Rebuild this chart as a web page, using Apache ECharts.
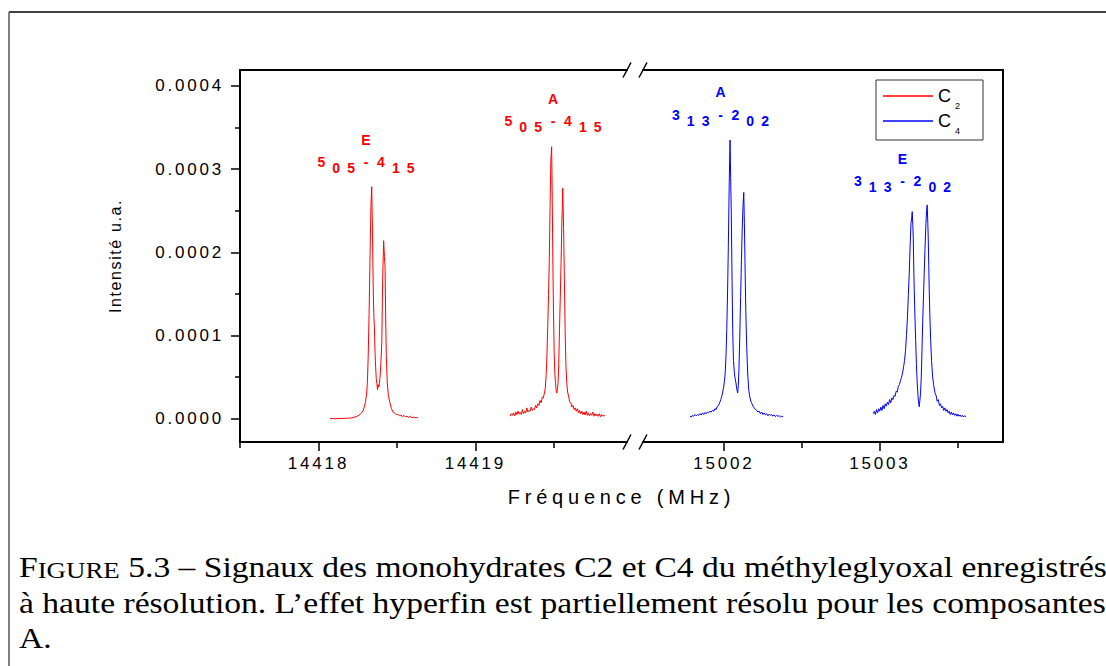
<!DOCTYPE html>
<html><head><meta charset="utf-8">
<script src="https://cdn.jsdelivr.net/npm/echarts@6/dist/echarts.min.js"></script>
<style>
html,body{margin:0;padding:0;background:#fff;}
#chart{width:1106px;height:666px;}
#chart text[style*="xspa"]{letter-spacing:2.8px;}
#chart text[style*="xspb"]{letter-spacing:4.8px;}
#chart text[style*="xspc"]{letter-spacing:1.6px;}
</style></head><body><div id="chart"></div>
<script>
// ---- data: [frequency (MHz), intensity (u.a.)] ----
const c2E = [[14418.073,0.00e-5],[14418.090,0.02e-5],[14418.110,0.00e-5],[14418.130,0.03e-5],[14418.150,0.02e-5],[14418.170,0.05e-5],[14418.190,0.06e-5],[14418.210,0.10e-5],[14418.225,0.15e-5],[14418.240,0.25e-5],[14418.252,0.35e-5],[14418.263,0.50e-5],[14418.274,0.70e-5],[14418.285,1.0e-5],[14418.293,1.5e-5],[14418.300,2.1e-5],[14418.307,3.1e-5],[14418.312,4.6e-5],[14418.317,7.9e-5],[14418.322,12.5e-5],[14418.328,19.1e-5],[14418.334,25.5e-5],[14418.339,27.9e-5],[14418.344,22.0e-5],[14418.349,15.1e-5],[14418.353,12.2e-5],[14418.356,11.0e-5],[14418.360,8.0e-5],[14418.364,6.2e-5],[14418.368,4.8e-5],[14418.372,4.2e-5],[14418.376,3.5e-5],[14418.380,4.1e-5],[14418.384,3.8e-5],[14418.388,4.3e-5],[14418.392,5.0e-5],[14418.397,6.5e-5],[14418.403,9.1e-5],[14418.409,17.0e-5],[14418.415,21.4e-5],[14418.420,19.5e-5],[14418.424,18.2e-5],[14418.428,12.0e-5],[14418.432,7.5e-5],[14418.438,4.3e-5],[14418.445,2.8e-5],[14418.455,1.9e-5],[14418.465,1.2e-5],[14418.475,0.8e-5],[14418.485,0.7e-5],[14418.495,0.5e-5],[14418.505,0.55e-5],[14418.515,0.35e-5],[14418.525,0.45e-5],[14418.535,0.25e-5],[14418.545,0.4e-5],[14418.555,0.2e-5],[14418.565,0.3e-5],[14418.575,0.15e-5],[14418.585,0.3e-5],[14418.595,0.1e-5],[14418.605,0.2e-5],[14418.615,0.1e-5],[14418.625,0.15e-5],[14418.634,0.05e-5]];

const c2A = [[14419.220,0.3e-5],[14419.228,0.6e-5],[14419.235,0.4e-5],[14419.242,0.7e-5],[14419.250,0.35e-5],[14419.257,0.8e-5],[14419.264,0.5e-5],[14419.271,0.9e-5],[14419.278,0.55e-5],[14419.285,0.75e-5],[14419.292,0.5e-5],[14419.299,1.1e-5],[14419.306,0.6e-5],[14419.313,0.9e-5],[14419.320,0.7e-5],[14419.327,1.3e-5],[14419.334,0.8e-5],[14419.341,1.0e-5],[14419.348,0.9e-5],[14419.355,1.4e-5],[14419.362,1.0e-5],[14419.369,1.2e-5],[14419.376,1.1e-5],[14419.383,1.6e-5],[14419.390,1.3e-5],[14419.397,1.8e-5],[14419.404,1.6e-5],[14419.411,2.2e-5],[14419.418,1.9e-5],[14419.425,2.6e-5],[14419.432,2.5e-5],[14419.438,3.0e-5],[14419.444,3.6e-5],[14419.450,5.2e-5],[14419.455,7.6e-5],[14419.460,11.0e-5],[14419.465,14.8e-5],[14419.470,19.0e-5],[14419.475,25.5e-5],[14419.480,31.0e-5],[14419.485,32.7e-5],[14419.489,26.0e-5],[14419.493,18.5e-5],[14419.497,12.5e-5],[14419.501,8.2e-5],[14419.505,5.6e-5],[14419.510,4.2e-5],[14419.514,3.4e-5],[14419.518,3.1e-5],[14419.522,3.6e-5],[14419.526,4.3e-5],[14419.530,6.5e-5],[14419.535,10.7e-5],[14419.540,14.5e-5],[14419.545,18.7e-5],[14419.550,23.5e-5],[14419.556,27.7e-5],[14419.561,23.0e-5],[14419.566,17.0e-5],[14419.571,10.5e-5],[14419.576,6.4e-5],[14419.581,4.4e-5],[14419.587,3.2e-5],[14419.594,2.6e-5],[14419.600,2.0e-5],[14419.607,1.9e-5],[14419.614,1.4e-5],[14419.621,1.6e-5],[14419.628,1.1e-5],[14419.635,1.3e-5],[14419.642,0.9e-5],[14419.649,1.2e-5],[14419.656,0.7e-5],[14419.663,1.0e-5],[14419.670,0.6e-5],[14419.677,0.9e-5],[14419.684,0.5e-5],[14419.691,0.8e-5],[14419.698,0.45e-5],[14419.705,0.9e-5],[14419.712,0.4e-5],[14419.719,0.7e-5],[14419.726,0.35e-5],[14419.733,0.6e-5],[14419.740,0.4e-5],[14419.747,0.8e-5],[14419.754,0.3e-5],[14419.761,0.6e-5],[14419.768,0.35e-5],[14419.775,0.55e-5],[14419.782,0.3e-5],[14419.789,0.6e-5],[14419.796,0.25e-5],[14419.803,0.5e-5],[14419.810,0.3e-5],[14419.817,0.45e-5],[14419.822,0.3e-5]];

const c4A = [[15001.782,0.3e-5],[15001.790,0.2e-5],[15001.798,0.4e-5],[15001.806,0.3e-5],[15001.814,0.5e-5],[15001.822,0.35e-5],[15001.830,0.5e-5],[15001.838,0.4e-5],[15001.846,0.6e-5],[15001.854,0.45e-5],[15001.862,0.7e-5],[15001.870,0.5e-5],[15001.878,0.75e-5],[15001.886,0.6e-5],[15001.894,0.8e-5],[15001.902,0.7e-5],[15001.910,0.9e-5],[15001.918,0.8e-5],[15001.926,1.0e-5],[15001.934,0.9e-5],[15001.942,1.2e-5],[15001.950,1.1e-5],[15001.958,1.5e-5],[15001.966,1.6e-5],[15001.974,2.0e-5],[15001.980,2.3e-5],[15001.986,2.7e-5],[15001.992,3.2e-5],[15001.998,3.8e-5],[15002.003,4.5e-5],[15002.008,5.5e-5],[15002.013,7.5e-5],[15002.018,10.7e-5],[15002.023,15.0e-5],[15002.028,20.6e-5],[15002.034,28.5e-5],[15002.039,33.5e-5],[15002.043,29.0e-5],[15002.047,24.7e-5],[15002.052,16.5e-5],[15002.056,10.7e-5],[15002.061,7.0e-5],[15002.067,5.5e-5],[15002.072,4.8e-5],[15002.077,4.3e-5],[15002.082,3.6e-5],[15002.088,3.1e-5],[15002.092,4.0e-5],[15002.096,5.9e-5],[15002.101,9.5e-5],[15002.107,14.7e-5],[15002.112,19.0e-5],[15002.117,22.7e-5],[15002.122,25.5e-5],[15002.127,27.2e-5],[15002.131,23.5e-5],[15002.135,18.7e-5],[15002.140,13.0e-5],[15002.146,8.6e-5],[15002.152,5.5e-5],[15002.159,3.4e-5],[15002.166,2.6e-5],[15002.172,2.1e-5],[15002.178,1.9e-5],[15002.186,1.5e-5],[15002.194,1.3e-5],[15002.202,1.1e-5],[15002.210,1.0e-5],[15002.218,0.8e-5],[15002.226,0.9e-5],[15002.234,0.6e-5],[15002.242,0.8e-5],[15002.250,0.5e-5],[15002.258,0.7e-5],[15002.266,0.45e-5],[15002.274,0.6e-5],[15002.282,0.35e-5],[15002.290,0.55e-5],[15002.298,0.4e-5],[15002.306,0.5e-5],[15002.314,0.3e-5],[15002.322,0.45e-5],[15002.330,0.25e-5],[15002.338,0.4e-5],[15002.346,0.3e-5],[15002.354,0.35e-5],[15002.362,0.2e-5],[15002.370,0.3e-5],[15002.379,0.25e-5]];

const c4E = [[15002.957,0.6e-5],[15002.964,0.9e-5],[15002.971,0.5e-5],[15002.978,1.1e-5],[15002.985,0.7e-5],[15002.992,1.2e-5],[15002.999,0.9e-5],[15003.006,1.4e-5],[15003.013,1.0e-5],[15003.020,1.6e-5],[15003.027,1.2e-5],[15003.034,1.8e-5],[15003.041,1.5e-5],[15003.048,2.0e-5],[15003.055,1.7e-5],[15003.062,2.3e-5],[15003.069,1.9e-5],[15003.076,2.5e-5],[15003.083,2.3e-5],[15003.090,2.8e-5],[15003.097,2.7e-5],[15003.104,3.3e-5],[15003.111,3.2e-5],[15003.118,3.9e-5],[15003.125,4.1e-5],[15003.132,4.6e-5],[15003.139,5.0e-5],[15003.146,5.6e-5],[15003.152,6.3e-5],[15003.158,7.0e-5],[15003.164,8.2e-5],[15003.170,10.0e-5],[15003.176,12.0e-5],[15003.182,14.8e-5],[15003.188,17.5e-5],[15003.194,21.0e-5],[15003.199,23.5e-5],[15003.203,24.0e-5],[15003.207,24.9e-5],[15003.211,23.2e-5],[15003.214,21.5e-5],[15003.217,18.0e-5],[15003.220,15.5e-5],[15003.225,12.0e-5],[15003.229,9.5e-5],[15003.234,6.5e-5],[15003.239,4.3e-5],[15003.245,2.5e-5],[15003.249,1.8e-5],[15003.252,1.44e-5],[15003.256,2.2e-5],[15003.260,3.0e-5],[15003.265,5.0e-5],[15003.270,8.5e-5],[15003.274,11.5e-5],[15003.279,14.5e-5],[15003.284,17.5e-5],[15003.289,20.5e-5],[15003.295,23.5e-5],[15003.299,25.0e-5],[15003.303,25.7e-5],[15003.307,23.5e-5],[15003.310,21.5e-5],[15003.313,18.5e-5],[15003.316,15.5e-5],[15003.320,12.5e-5],[15003.325,9.5e-5],[15003.331,7.0e-5],[15003.338,5.0e-5],[15003.345,4.0e-5],[15003.353,3.1e-5],[15003.360,2.8e-5],[15003.367,2.1e-5],[15003.374,2.3e-5],[15003.381,1.6e-5],[15003.388,1.8e-5],[15003.395,1.3e-5],[15003.402,1.5e-5],[15003.409,1.0e-5],[15003.416,1.3e-5],[15003.423,0.9e-5],[15003.430,1.1e-5],[15003.437,0.7e-5],[15003.444,0.9e-5],[15003.451,0.5e-5],[15003.458,0.8e-5],[15003.465,0.45e-5],[15003.472,0.7e-5],[15003.479,0.4e-5],[15003.486,0.6e-5],[15003.493,0.3e-5],[15003.500,0.55e-5],[15003.507,0.3e-5],[15003.514,0.45e-5],[15003.521,0.25e-5],[15003.528,0.4e-5],[15003.535,0.2e-5],[15003.542,0.35e-5],[15003.552,0.25e-5]];

// tick values
const yTicks = [0, 0.0001, 0.0002, 0.0003, 0.0004];
const yMinorTicks = [0.00005, 0.00015, 0.00025, 0.00035];
const xTicksLeft = [14418, 14419];
const xMinorLeft = [14417.5, 14418.5, 14419.5];
const xTicksRight = [15002, 15003];
const xMinorRight = [15002.5, 15003.5];

// band labels (component, J Ka Kc upper, J Ka Kc lower) anchored at [freq, intensity]
const annotC2 = [
  {band: 'E', upper: ['5','0','5'], lower: ['4','1','5'], value: [14418.306, 32.3e-5]},
  {band: 'A', upper: ['5','0','5'], lower: ['4','1','5'], value: [14419.497, 37.2e-5]}
];
const annotC4 = [
  {band: 'A', upper: ['3','1','3'], lower: ['2','0','2'], value: [15001.981, 38.0e-5]},
  {band: 'E', upper: ['3','1','3'], lower: ['2','0','2'], value: [15003.148, 30.0e-5]}
];

const RED = '#ff0000', BLUE = '#0000ff';
const SANS = 'Liberation Sans';

const chart = echarts.init(document.getElementById('chart'), null, {renderer: 'svg'});

const Y_MIN = -0.000028, Y_MAX = 0.00041923;
const axisLineStyle = {color: '#000', width: 2, cap: 'square'};

function annotLabel(color) {
  const base = {fontFamily: SANS, fontWeight: 'bold', color: color, opacity: 1};
  return {
    show: true, position: [0, 0], align: 'center', verticalAlign: 'middle',
    fontFamily: SANS, fontWeight: 'bold', fontSize: 14, color: color, lineHeight: 20,
    opacity: 1, textBorderWidth: 0,
    formatter: p => {
      const d = p.data, u = d.upper, l = d.lower;
      return `{ab|${d.band}}\n{hi|${u[0]}} {lo|${u[1]}} {lo|${u[2]}} {hi|-} {hi|${l[0]}} {lo|${l[1]}} {lo|${l[2]}}`;
    },
    rich: {
      ab: Object.assign({fontSize: 14, lineHeight: 31, align: 'center'}, base),
      hi: Object.assign({fontSize: 14, width: 11, align: 'center', verticalAlign: 'top'}, base),
      lo: Object.assign({fontSize: 14, width: 11, align: 'center', verticalAlign: 'bottom'}, base)
    }
  };
}

const option = {
  animation: false,
  backgroundColor: '#fff',
  grid: [
    {left: 240, top: 70, width: 387, height: 372, containLabel: false, outerBoundsMode: 'none'},
    {left: 643, top: 70, width: 360, height: 372, containLabel: false, outerBoundsMode: 'none'}
  ],
  xAxis: [
    {gridIndex: 0, type: 'value', position: 'bottom', min: 14417.5, max: 14419.965,
     axisLine: {show: true, onZero: false, lineStyle: axisLineStyle},
     axisTick: {show: true, customValues: xMinorLeft, length: 6, lineStyle: {color: '#000', width: 1.5}},
     axisLabel: {show: false}, splitLine: {show: false}},
    {gridIndex: 0, type: 'value', position: 'bottom', min: 14417.5, max: 14419.965,
     axisLine: {show: false, onZero: false},
     axisTick: {show: true, customValues: xTicksLeft, length: 9, lineStyle: {color: '#000', width: 1.5}},
     axisLabel: {show: true, customValues: xTicksLeft, formatter: v => String(v), margin: 13,
                 fontSize: 17, fontFamily: SANS + ', xspa', color: '#000'},
     splitLine: {show: false}},
    {gridIndex: 0, type: 'value', position: 'top', min: 14417.5, max: 14419.965,
     axisLine: {show: true, onZero: false, lineStyle: axisLineStyle},
     axisTick: {show: false}, axisLabel: {show: false}, splitLine: {show: false}},
    {gridIndex: 1, type: 'value', position: 'bottom', min: 15001.481, max: 15003.789,
     axisLine: {show: true, onZero: false, lineStyle: axisLineStyle},
     axisTick: {show: true, customValues: xMinorRight, length: 6, lineStyle: {color: '#000', width: 1.5}},
     axisLabel: {show: false}, splitLine: {show: false}},
    {gridIndex: 1, type: 'value', position: 'bottom', min: 15001.481, max: 15003.789,
     axisLine: {show: false, onZero: false},
     axisTick: {show: true, customValues: xTicksRight, length: 9, lineStyle: {color: '#000', width: 1.5}},
     axisLabel: {show: true, customValues: xTicksRight, formatter: v => String(v), margin: 13,
                 fontSize: 17, fontFamily: SANS + ', xspa', color: '#000'},
     splitLine: {show: false}},
    {gridIndex: 1, type: 'value', position: 'top', min: 15001.481, max: 15003.789,
     axisLine: {show: true, onZero: false, lineStyle: axisLineStyle},
     axisTick: {show: false}, axisLabel: {show: false}, splitLine: {show: false}}
  ],
  yAxis: [
    {gridIndex: 0, type: 'value', position: 'left', min: Y_MIN, max: Y_MAX,
     name: 'Intensité u.a.', nameLocation: 'middle', nameRotate: 90, nameGap: 117,
     nameTextStyle: {fontSize: 16, fontFamily: SANS + ', xspc', color: '#000'},
     axisLine: {show: true, onZero: false, lineStyle: axisLineStyle},
     axisTick: {show: true, customValues: yTicks, length: 9, lineStyle: {color: '#000', width: 1.5}},
     axisLabel: {show: true, customValues: yTicks, formatter: v => v.toFixed(4), margin: 16,
                 fontSize: 17, fontFamily: SANS + ', xspa', color: '#000'},
     splitLine: {show: false}},
    {gridIndex: 0, type: 'value', position: 'left', min: Y_MIN, max: Y_MAX,
     axisLine: {show: false, onZero: false},
     axisTick: {show: true, customValues: yMinorTicks, length: 5, lineStyle: {color: '#000', width: 1.5}},
     axisLabel: {show: false}, splitLine: {show: false}},
    {gridIndex: 1, type: 'value', position: 'right', min: Y_MIN, max: Y_MAX,
     axisLine: {show: true, onZero: false, lineStyle: axisLineStyle},
     axisTick: {show: false}, axisLabel: {show: false}, splitLine: {show: false}}
  ],
  legend: {
    data: ['C2', 'C4'], orient: 'vertical', left: 876, top: 80,
    itemWidth: 50, itemHeight: 14, itemGap: 2,
    padding: [7, 23, 5, 7], borderColor: '#333', borderWidth: 1, backgroundColor: '#fff',
    icon: 'path://M0,0H50V1.3H0Z', itemStyle: {borderWidth: 0},
    selectedMode: false,
    formatter: n => `{c|C}{s|${n.slice(1)}}`,
    textStyle: {
      rich: {
        c: {fontSize: 18, fontFamily: SANS, color: '#000', lineHeight: 28},
        s: {fontSize: 9, fontFamily: SANS, color: '#000', verticalAlign: 'bottom', lineHeight: 10, padding: [0, 0, 0, 4]}
      }
    }
  },
  series: [
    {name: 'C2', type: 'line', xAxisIndex: 0, yAxisIndex: 0, data: c2E, symbol: 'none', showSymbol: false,
     lineStyle: {color: RED, width: 1}, itemStyle: {color: RED}},
    {name: 'C2', type: 'line', xAxisIndex: 0, yAxisIndex: 0, data: c2A, symbol: 'none', showSymbol: false,
     lineStyle: {color: RED, width: 1}, itemStyle: {color: RED}},
    {name: 'C4', type: 'line', xAxisIndex: 3, yAxisIndex: 2, data: c4A, symbol: 'none', showSymbol: false,
     lineStyle: {color: BLUE, width: 1}, itemStyle: {color: BLUE}},
    {name: 'C4', type: 'line', xAxisIndex: 3, yAxisIndex: 2, data: c4E, symbol: 'none', showSymbol: false,
     lineStyle: {color: BLUE, width: 1}, itemStyle: {color: BLUE}},
    {name: 'bandes C2', type: 'scatter', xAxisIndex: 0, yAxisIndex: 0, data: annotC2, symbolSize: 1,
     itemStyle: {color: 'rgba(0,0,0,0)'}, silent: true, label: annotLabel(RED)},
    {name: 'bandes C4', type: 'scatter', xAxisIndex: 3, yAxisIndex: 2, data: annotC4, symbolSize: 1,
     itemStyle: {color: 'rgba(0,0,0,0)'}, silent: true, label: annotLabel(BLUE)}
  ],
  graphic: [
    {type: 'line', silent: true, shape: {x1: 9, y1: 12, x2: 1106, y2: 12}, style: {stroke: '#000', lineWidth: 1.5}},
    {type: 'line', silent: true, shape: {x1: 9, y1: 12, x2: 9, y2: 666}, style: {stroke: '#555', lineWidth: 1.5}},
    {type: 'line', silent: true, shape: {x1: 623, y1: 77.5, x2: 631, y2: 62.5}, style: {stroke: '#000', lineWidth: 1.5}},
    {type: 'line', silent: true, shape: {x1: 639, y1: 77.5, x2: 647, y2: 62.5}, style: {stroke: '#000', lineWidth: 1.5}},
    {type: 'line', silent: true, shape: {x1: 623, y1: 449.5, x2: 631, y2: 434.5}, style: {stroke: '#000', lineWidth: 1.5}},
    {type: 'line', silent: true, shape: {x1: 639, y1: 449.5, x2: 647, y2: 434.5}, style: {stroke: '#000', lineWidth: 1.5}},
    {type: 'text', silent: true, x: 621.5, y: 497,
     style: {text: 'Fréquence (MHz)', fontSize: 20, fontFamily: SANS + ', xspb', fill: '#000', align: 'center', verticalAlign: 'middle'}},
    {type: 'text', silent: true, x: 19, y: 567, scaleX: 1.12,
     style: {text: '{f|F}{sc|IGURE} 5.3 – Signaux des monohydrates C2 et C4 du méthyleglyoxal enregistrés',
             fontSize: 30, fontFamily: 'Liberation Serif', fill: '#000', align: 'left', verticalAlign: 'middle',
             rich: {f: {fontSize: 30, fontFamily: 'Liberation Serif', fill: '#000'},
                    sc: {fontSize: 24, fontFamily: 'Liberation Serif', fill: '#000', verticalAlign: 'bottom'}}}},
    {type: 'text', silent: true, x: 19, y: 603, scaleX: 1.12,
     style: {text: 'à haute résolution. L’effet hyperfin est partiellement résolu pour les composantes',
             fontSize: 30, fontFamily: 'Liberation Serif', fill: '#000', align: 'left', verticalAlign: 'middle'}},
    {type: 'text', silent: true, x: 19, y: 638, scaleX: 1.12,
     style: {text: 'A.', fontSize: 30, fontFamily: 'Liberation Serif', fill: '#000', align: 'left', verticalAlign: 'middle'}}
  ]
};
chart.setOption(option);
</script></body></html>
